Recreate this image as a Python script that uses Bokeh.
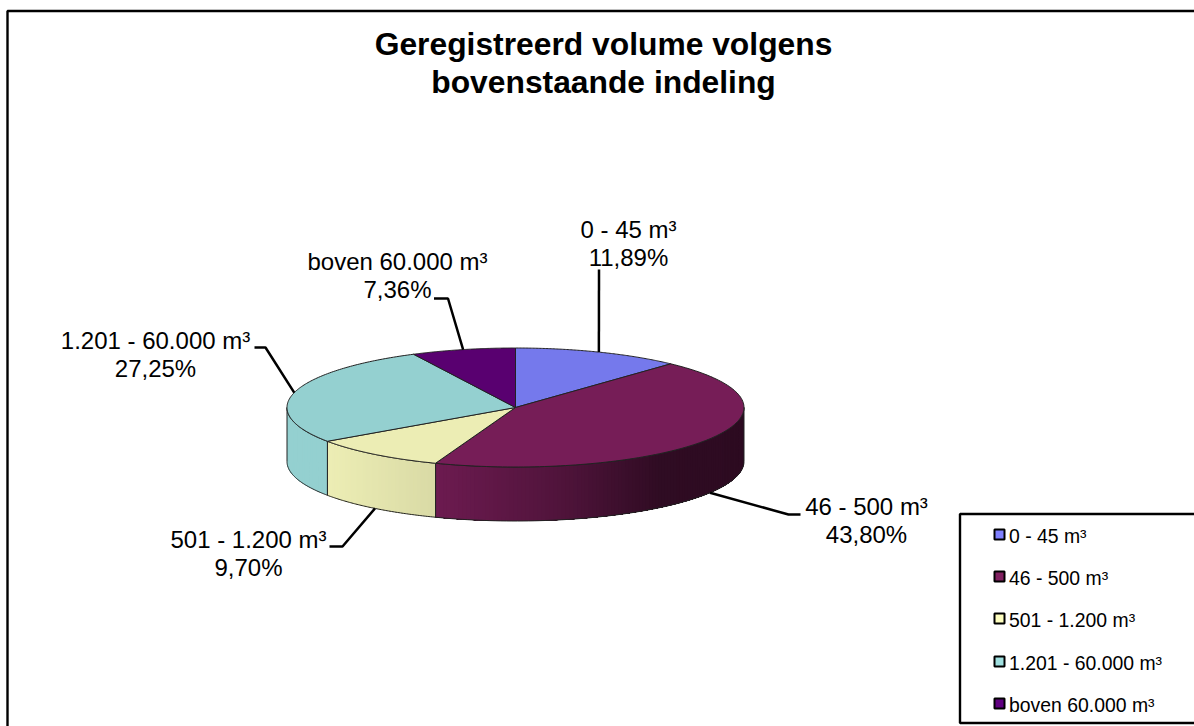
import numpy as np
from bokeh.plotting import figure
from bokeh.core.properties import value
from bokeh.embed import file_html
from bokeh.resources import INLINE

categories = ["0 - 45 m³", "46 - 500 m³", "501 - 1.200 m³", "1.201 - 60.000 m³", "boven 60.000 m³"]
percent = [11.89, 43.80, 9.70, 27.25, 7.36]
percent_labels = ["11,89%", "43,80%", "9,70%", "27,25%", "7,36%"]
face_colors = ["#7579ec", "#761d57", "#ecedb4", "#94d0d0", "#590070"]
legend_colors = ["#8080ff", "#802060", "#ffffc0", "#a0e0e0", "#600080"]
title_lines = ["Geregistreerd volume volgens", "bovenstaande indeling"]

FONT = value("Liberation Sans")
CX, CY, RX, RY, DEPTH = 515.0, 407.0, 228.5, 59.5, 54.0
DARK = "#222222"

p = figure(width=1194, height=726, x_range=(0, 1194), y_range=(726, 0),
           toolbar_location=None, output_backend="svg", min_border=0,
           outline_line_color=None, background_fill_color="white")
p.xaxis.visible = False
p.yaxis.visible = False
p.grid.visible = False


def px(th):
    return CX + RX * np.sin(th)


def py(th):
    return CY - RY * np.cos(th)


def shade(hexcol, x):
    f = np.interp(x, [330, 435, 560, 660, 745], [1.0, 0.92, 0.68, 0.40, 0.38])
    rgb = [int(hexcol[i:i + 2], 16) for i in (1, 3, 5)]
    return "#%02x%02x%02x" % tuple(int(round(c * f)) for c in rgb)


edges = np.radians(np.concatenate([[0], np.cumsum(percent)]) * 3.6)

# side wall, front half only: each band is painted over the last
for i, col in enumerate(face_colors):
    a, b = max(edges[i], np.pi / 2), min(edges[i + 1], 3 * np.pi / 2)
    if b <= a:
        continue
    steps = np.linspace(a, b, max(2, int((b - a) / np.radians(1.0)) + 1))
    for s, e in zip(steps[:-1], steps[1:]):
        t = np.linspace(s, b, 60)
        xs = np.concatenate([px(t), px(t[::-1])])
        ys = np.concatenate([py(t), py(t[::-1]) + DEPTH])
        p.patch(xs, ys, fill_color=shade(col, px((s + e) / 2)), line_color=None)
    t = np.linspace(a, b, 80)
    xs = np.concatenate([px(t), px(t[::-1])])
    ys = np.concatenate([py(t), py(t[::-1]) + DEPTH])
    p.patch(xs, ys, fill_color=None, line_color=DARK, line_width=1)

# top faces
for i, col in enumerate(face_colors):
    t = np.linspace(edges[i], edges[i + 1], 120)
    xs = np.concatenate([[CX], px(t)])
    ys = np.concatenate([[CY], py(t)])
    p.patch(xs, ys, fill_color=col, line_color=DARK, line_width=1)

# leader lines: start on the slice at its middle angle, then elbows
mids = (edges[:-1] + edges[1:]) / 2
on_wall = [False, True, True, False, False]
elbows = [[(598.5, 269)],
          [(788, 514), (800, 514)],
          [(342, 546), (329, 546)],
          [(265, 347), (254, 347)],
          [(447.5, 298), (433.5, 298)]]
for m, w, el in zip(mids, on_wall, elbows):
    sx, sy = px(m), py(m) + (DEPTH if w else 0)
    p.line([sx] + [e[0] for e in el], [sy] + [e[1] for e in el],
           line_color="black", line_width=2.5)

# title
for s, y in zip(title_lines, [43, 81]):
    p.text([603], [y], text=[s], text_font=FONT, text_font_size="31.8px", text_font_style="bold",
           text_align="center", text_baseline="middle", text_color="black")

# data labels
label_xy = [(628, 229, 257), (866, 506, 534), (248, 539, 567), (155, 340, 368), (397, 261, 289)]
for (x, y1, y2), c, l in zip(label_xy, categories, percent_labels):
    p.text([x], [y1], text=[c], text_font=FONT, text_font_size="24px", text_align="center",
           text_baseline="middle", text_color="black")
    p.text([x], [y2], text=[l], text_font=FONT, text_font_size="24px", text_align="center",
           text_baseline="middle", text_color="black")

# frame
p.line([7, 7, 1194], [726, 10.5, 10.5], line_color="black", line_width=2.4)

# legend
p.line([1194, 959.5, 959.5, 1194], [513.5, 513.5, 722.5, 722.5], line_color="black", line_width=2.4)
rows = [534, 576, 618, 661, 703]
for y, c, col in zip(rows, categories, legend_colors):
    p.rect([999], [y], width=10, height=10, fill_color=col, line_color="black", line_width=2)
    p.text([1008.5], [y + 1], text=[c], text_font=FONT, text_font_size="19.4px", text_align="left",
           text_baseline="middle", text_color="black")

open("out.html", "w").write(file_html(p, INLINE))
